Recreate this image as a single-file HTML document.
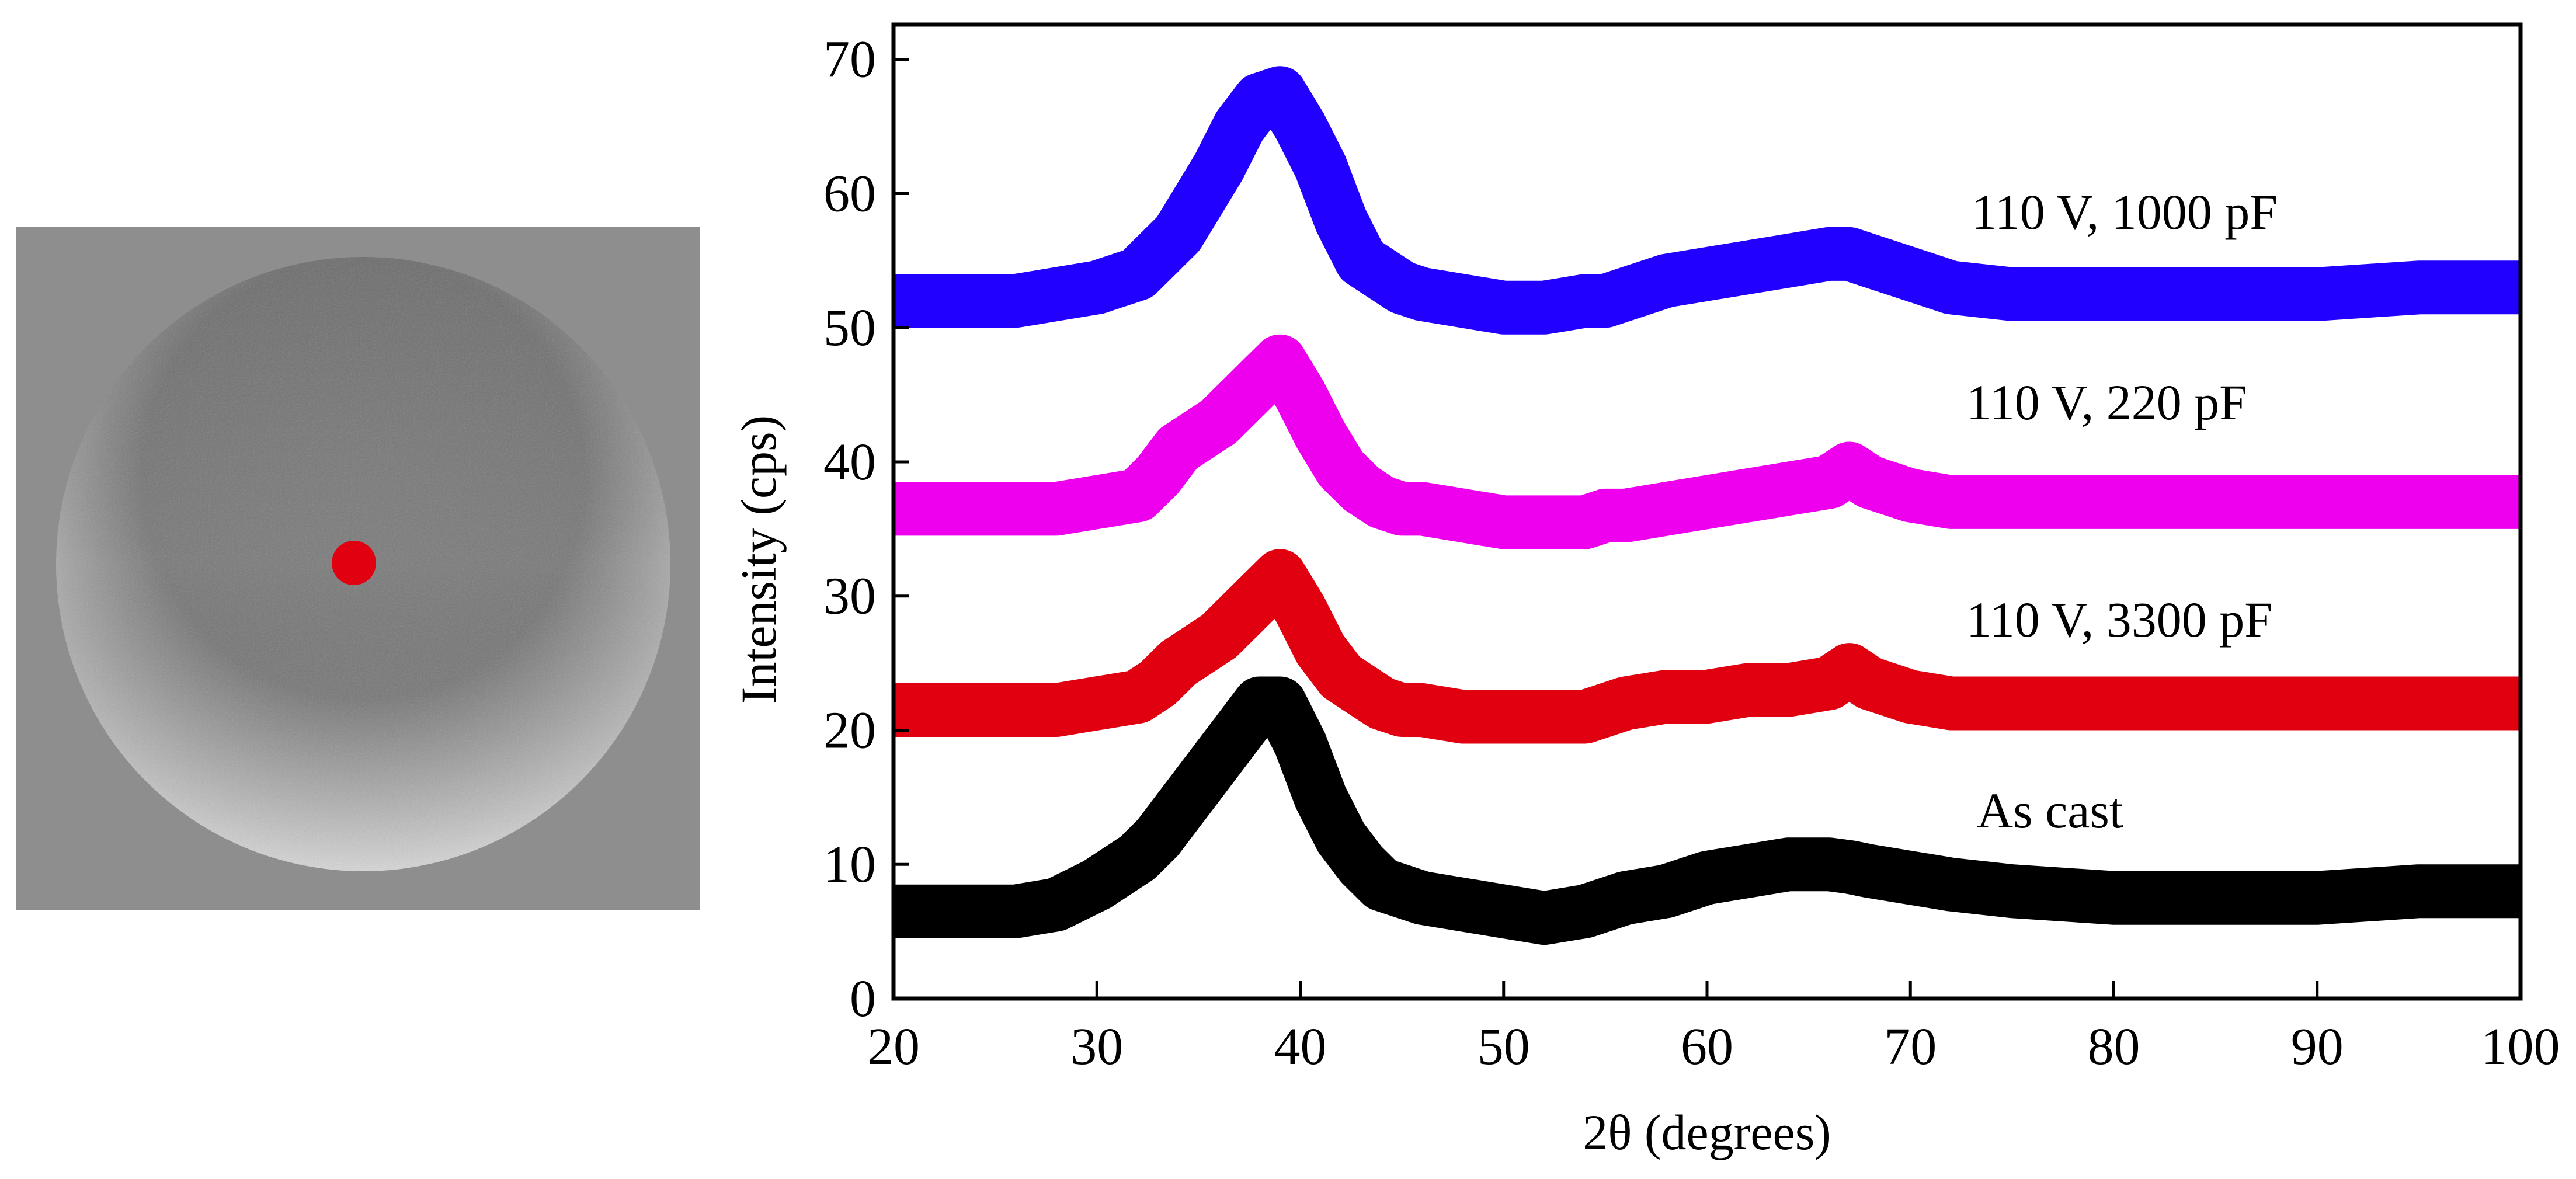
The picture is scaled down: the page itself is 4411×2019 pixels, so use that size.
<!DOCTYPE html>
<html><head><meta charset="utf-8">
<style>
html,body{margin:0;padding:0;background:#fff;}
svg{display:block;font-family:"Liberation Serif",serif;}
</style></head>
<body>
<svg id="fig" width="4411" height="2019" viewBox="0 0 4411 2019">
  <defs>
    <radialGradient id="cap" cx="0.5" cy="0.36" r="0.72">
      <stop offset="0" stop-color="#7e7e7e"/>
      <stop offset="0.5" stop-color="#7a7a7a"/>
      <stop offset="0.72" stop-color="#a8a8a8"/>
      <stop offset="1" stop-color="#e2e2e2"/>
    </radialGradient>
    <linearGradient id="capv" x1="0" y1="0" x2="0" y2="1">
      <stop offset="0" stop-color="#000" stop-opacity="0.10"/>
      <stop offset="0.5" stop-color="#000" stop-opacity="0"/>
      <stop offset="1" stop-color="#fff" stop-opacity="0.2"/>
    </linearGradient>
    <filter id="grain"><feTurbulence type="fractalNoise" baseFrequency="0.35" numOctaves="2" seed="3"/><feColorMatrix type="saturate" values="0"/><feComponentTransfer><feFuncA type="linear" slope="0.2"/></feComponentTransfer><feComposite in2="SourceGraphic" operator="in"/></filter>
  </defs>
  <g>
    <rect x="28" y="388" width="1170" height="1170" fill="#8e8e8e"/>
    <circle cx="622" cy="966" r="526" fill="url(#cap)"/>
    <circle cx="622" cy="966" r="526" fill="url(#capv)"/>
    <circle cx="622" cy="966" r="526" fill="#fff" filter="url(#grain)"/>
    <circle cx="606" cy="964" r="38" fill="#e0000f"/>
  </g>
  <g id="plot"></g>
</svg>
<script>
const twoTheta = [20,22,24,26,28,30,32,33,34,35,36,37,38,39,40,41,42,43,44,45,46,48,50,52,54,55,56,58,60,62,64,66,67,68,70,72,75,80,85,90,95,100];
const asCast   = [6.5,6.5,6.5,6.5,7,8.5,10.5,12,14,16,18,20,22,22,19,15,12,10,8.5,8,7.5,7,6.5,6,6.5,7,7.5,8,9,9.5,10,10,9.8,9.5,9,8.5,8,7.5,7.5,7.5,8,8];
const v3300    = [21.5,21.5,21.5,21.5,21.5,22,22.5,23.5,25,26,27,28.5,30,31.5,29,26,24,23,22,21.5,21.5,21,21,21,21,21.5,22,22.5,22.5,23,23,23.5,24.5,23.5,22.5,22,22,22,22,22,22,22];
const v220     = [36.5,36.5,36.5,36.5,36.5,37,37.5,39,41,42,43,44.5,46,47.5,45,42,39.5,38,37,36.5,36.5,36,35.5,35.5,35.5,36,36,36.5,37,37.5,38,38.5,39.5,38.5,37.5,37,37,37,37,37,37,37];
const v1000    = [52,52,52,52,52.5,53,54,55.5,57,59.5,62,65,67,67.5,65,62,58,55,54,53,52.5,52,51.5,51.5,52,52,52.5,53.5,54,54.5,55,55.5,55.5,55,54,53,52.5,52.5,52.5,52.5,53,53];
const yTicks = [0,10,20,30,40,50,60,70];
const xTicks = [20,30,40,50,60,70,80,90,100];
const labels = ["As cast","110 V, 3300 pF","110 V, 220 pF","110 V, 1000 pF"];

const L=1530,R=4316,T=42,B=1710;
const xMin=20,xMax=100,yMin=0,yMax=72.6;
const sx=v=>L+(v-xMin)/(xMax-xMin)*(R-L);
const sy=v=>B-(v-yMin)/(yMax-yMin)*(B-T);
const NS="http://www.w3.org/2000/svg";
const g=document.getElementById('plot');
function mk(tag,attrs,parent){const e=document.createElementNS(NS,tag);for(const k in attrs)e.setAttribute(k,attrs[k]);(parent||g).appendChild(e);return e;}

const series=[[asCast,"#000000","series-as-cast"],[v3300,"#e0000f","series-3300pf"],[v220,"#ee00ee","series-220pf"],[v1000,"#2200ff","series-1000pf"]];
const clip=mk('clipPath',{id:'pc'});mk('rect',{x:L,y:T,width:R-L,height:B-T},clip);
series.forEach(([vals,col,name])=>{
  const d=vals.map((v,i)=>(i?'L':'M')+sx(twoTheta[i]).toFixed(1)+' '+sy(v).toFixed(1)).join(' ');
  const p=mk('path',{d:d,fill:'none',stroke:col,'stroke-width':92,'stroke-linejoin':'round','stroke-linecap':'butt','clip-path':'url(#pc)'});
  
  
});
const fr=mk('rect',{x:L,y:T,width:R-L,height:B-T,fill:'none',stroke:'#000','stroke-width':7});


yTicks.forEach(v=>{
  const t=mk('line',{x1:L,x2:L+27,y1:sy(v),y2:sy(v),stroke:'#000','stroke-width':5});
  
  
  const tx=mk('text',{x:1500,y:sy(v)+30,'font-size':90,'text-anchor':'end'});
  tx.textContent=v;
  
  
});
xTicks.forEach(v=>{
  const t=mk('line',{x1:sx(v),x2:sx(v),y1:B,y2:B-30,stroke:'#000','stroke-width':5});
  
  
  const tx=mk('text',{x:sx(v),y:1822,'font-size':90,'text-anchor':'middle'});
  tx.textContent=v;
  
  
});
const xt=mk('text',{x:2923,y:1968,'font-size':86,'text-anchor':'middle'});
xt.textContent='2θ (degrees)';


const yt=mk('text',{x:0,y:0,'font-size':86,'text-anchor':'middle',transform:'translate(1328,958) rotate(-90)'});
yt.textContent='Intensity (cps)';


const lp=[[3385,1417],[3367,1090],[3367,718],[3376,392]];
labels.forEach((s,i)=>{
  const tx=mk('text',{x:lp[i][0],y:lp[i][1],'font-size':86});
  tx.textContent=s;
  
  
});
</script>
</body></html>
